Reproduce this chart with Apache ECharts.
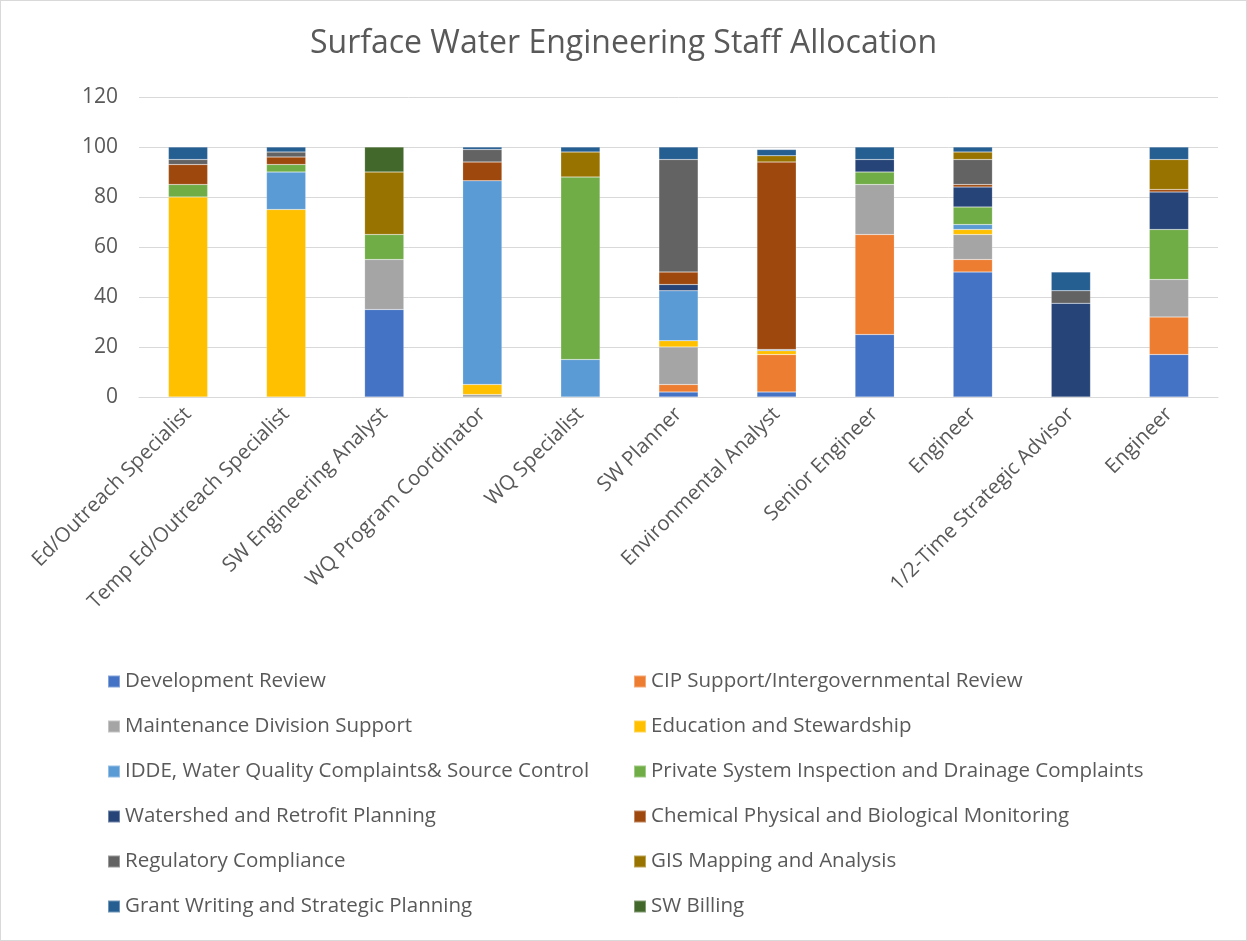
<!DOCTYPE html>
<html><head><meta charset="utf-8">
<script src="https://cdn.jsdelivr.net/npm/echarts@6/dist/echarts.min.js"></script>
<style>html,body{margin:0;padding:0;background:#fff}#c{width:1245px;height:939px;border:1px solid #d9d9d9}</style>
</head><body><div id="c"></div>
<script>
const categories = ["Ed/Outreach Specialist","Temp Ed/Outreach Specialist","SW Engineering Analyst","WQ Program Coordinator","WQ Specialist","SW Planner","Environmental Analyst","Senior Engineer","Engineer","1/2-Time Strategic Advisor","Engineer"];
const seriesNames = ["Development Review","CIP Support/Intergovernmental Review","Maintenance Division Support","Education and Stewardship","IDDE, Water Quality Complaints& Source Control","Private System Inspection and Drainage Complaints","Watershed and Retrofit Planning","Chemical Physical and Biological Monitoring","Regulatory Compliance","GIS Mapping and Analysis","Grant Writing and Strategic Planning","SW Billing"];
const developmentReview = [0,0,35,0,0,2,2,25,50,0,17];
const cipSupport        = [0,0,0,0,0,3,15,40,5,0,15];
const maintenance       = [0,0,20,1,0,15,0,20,10,0,15];
const education         = [80,75,0,4,0,2.5,1.5,0,2,0,0];
const idde              = [0,15,0,81.5,15,20,0.5,0,2,0,0];
const privateSystem     = [5,3,10,0,73,0,0,5,7,0,20];
const watershed         = [0,0,0,0,0,2.5,0,5,8,37.5,15];
const chemical          = [8,3,0,7.5,0,5,75,0,1,0,1];
const regulatory        = [2,2,0,5,0,45,0,0,10,5,0];
const gisMapping        = [0,0,25,0,10,0,2.5,0,3,0,12];
const grantWriting      = [5,2,0,1,2,5,2.5,5,2,7.5,5];
const swBilling         = [0,0,10,0,0,0,0,0,0,0,0];
const yTicks = [0,20,40,60,80,100,120];
const values = [developmentReview,cipSupport,maintenance,education,idde,privateSystem,watershed,chemical,regulatory,gisMapping,grantWriting,swBilling];
const colors = ["#4472C4","#ED7D31","#A5A5A5","#FFC000","#5B9BD5","#70AD47","#264478","#9E480E","#636363","#997300","#255E91","#43682B"];
const font = "'Open Sans', sans-serif";
const chart = echarts.init(document.getElementById('c'));
const legendBase = {orient:'vertical', itemWidth:12, itemHeight:12, itemGap:24, icon:'rect', padding:0,
  textStyle:{fontFamily:font, fontSize:20.5, lineHeight:21, color:'#595959'}, top:670};
chart.setOption({
  animation:false,
  color: colors,
  title:{text:'Surface Water Engineering Staff Allocation', left:'center', top:22,
    textStyle:{fontFamily:font, fontSize:32, fontWeight:'normal', color:'#595959'}},
  grid:{left:138, right:28, top:96, bottom:543, containLabel:false},
  legend:[
    Object.assign({}, legendBase, {left:106, data: seriesNames.filter((n,i)=>i%2===0)}),
    Object.assign({}, legendBase, {left:632, data: seriesNames.filter((n,i)=>i%2===1)})
  ],
  xAxis:{type:'category', data:categories,
    axisLine:{lineStyle:{color:'#d9d9d9', width:1}}, axisTick:{show:false},
    axisLabel:{rotate:45, interval:0, fontFamily:font, fontSize:20.5, color:'#595959', margin:14}},
  yAxis:{type:'value', min:0, max:120, interval:20,
    axisLine:{show:false}, axisTick:{show:false},
    splitLine:{lineStyle:{color:'#d9d9d9', width:1}},
    axisLabel:{fontFamily:font, fontSize:21, color:'#595959', margin:21,
      formatter: v => yTicks.includes(v) ? String(v) : ''}},
  series: seriesNames.map((n,i)=>({name:n, type:'bar', stack:'total', barWidth:'40%',
    data: values[i].map(v => v === 0 ? null : v),
    itemStyle:{borderColor:'rgba(255,255,255,0.35)', borderWidth:0.5}}))
});
</script></body></html>
